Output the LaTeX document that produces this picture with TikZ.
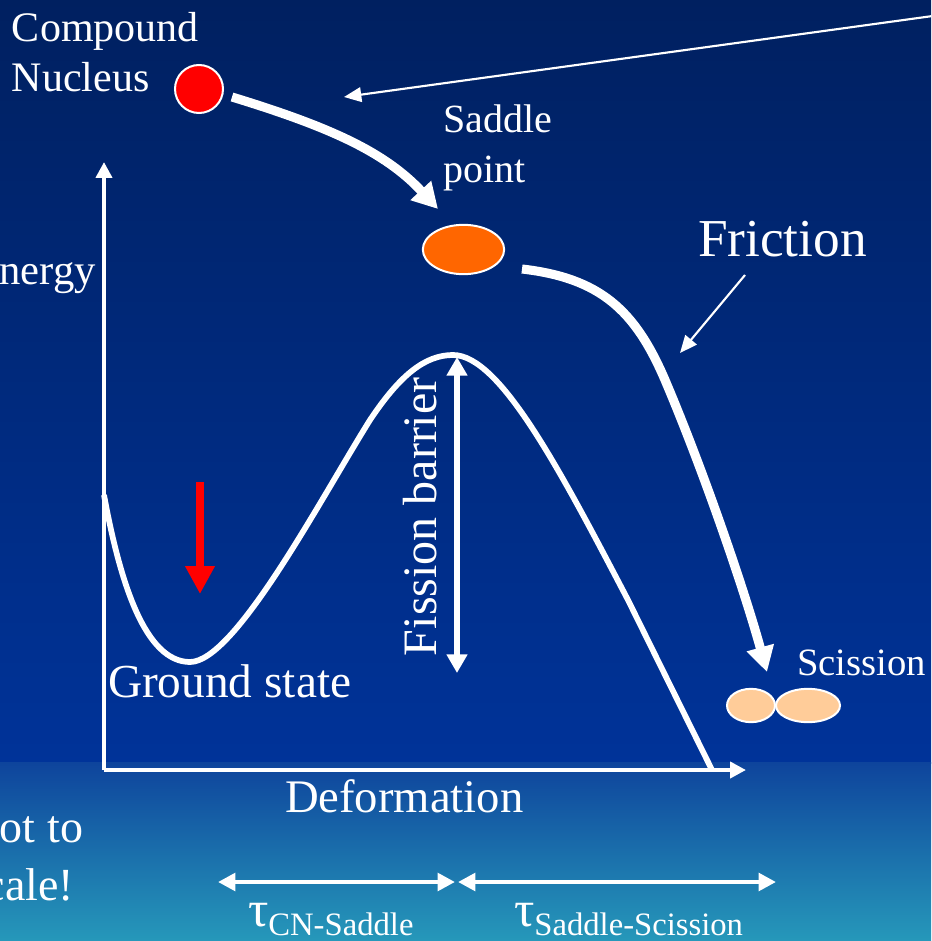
\documentclass[tikz,border=0pt]{standalone}
\usepackage{fontspec}
\setmainfont{Liberation Serif}
\usetikzlibrary{arrows.meta,shapes.geometric}
\definecolor{bgtop}{RGB}{0,32,96}
\definecolor{bgmid}{RGB}{0,51,153}
\definecolor{bglow}{RGB}{14,68,156}
\definecolor{bgbot}{RGB}{38,152,186}
\definecolor{cnred}{RGB}{255,0,0}
\definecolor{sporange}{RGB}{255,102,0}
\definecolor{scpeach}{RGB}{255,204,153}
\newcommand\fsz[1]{\fontsize{#1}{#1}\selectfont}
\begin{document}
\begin{tikzpicture}[x=0.75pt,y=-0.75pt,
  lbl/.style={text=white,inner sep=0pt,outer sep=0pt},
  axisline/.style={white,line width=3pt,-{Triangle[length=12pt,width=12pt]}},
  pes/.style={white,line width=4.3pt,line join=round},
  pathbig/.style={white,line width=6.8pt,-{Triangle[length=19pt,width=20pt]}},
  thinarrow/.style={white,line width=1.6pt,-{Triangle[length=13pt,width=11pt]}},
  barrierarrow/.style={white,line width=4pt,{Triangle[length=14pt,width=15pt]}-{Triangle[length=14pt,width=15pt]}},
  timearrow/.style={white,line width=3.6pt,{Triangle[length=13pt,width=13pt]}-{Triangle[length=13pt,width=13pt]}},
  redarrow/.style={cnred,line width=6pt,-{Triangle[length=21pt,width=21pt]}},
  blob/.style={draw=white,line width=1.5pt,inner sep=0pt}]
\useasboundingbox (0,0) rectangle (931,941);
\clip (0,0) rectangle (931,941);
% background
\shade[top color=bgtop,bottom color=bgmid] (0,0) rectangle (931,763);
\shade[top color=bglow,bottom color=bgbot] (0,762) rectangle (931,941);

% coordinates
\coordinate (O) at (104,770);
\coordinate (ytop) at (104,162);
\coordinate (xend) at (746,770);
\coordinate (pesstart) at (104,495);
\coordinate (gs) at (190,662);
\coordinate (pk) at (453,355);
\coordinate (pesend) at (712,770);

% axes
\draw[axisline] (O) -- (ytop);
\draw[axisline] (O) -- (xend);

% potential energy curve
\draw[pes] (pesstart) .. controls (120,582) and (145,662) .. (gs)
  .. controls (235,662) and (320,500) .. (370,420)
  .. controls (400,375) and (425,355) .. (pk)
  .. controls (500,355) and (560,470) .. (628,600) -- (pesend);

% fission barrier arrow
\coordinate (fbtop) at (457,357);
\coordinate (fbbot) at (457,673);
\draw[barrierarrow] (fbbot) -- (fbtop);
\node[lbl,rotate=90,anchor=base west,font=\fsz{36}] (barrier) at (436,656) {Fission barrier};

% red arrow
\coordinate (rtop) at (200,482);
\coordinate (rtip) at (200,594);
\draw[redarrow] (rtop) -- (rtip);

% nuclei
\node[blob,circle,fill=cnred,minimum size=36pt] (cn) at (199,89) {};
\node[blob,ellipse,fill=sporange,minimum width=61pt,minimum height=37pt] (sp) at (463.5,249.5) {};
\node[blob,ellipse,fill=scpeach,minimum width=36pt,minimum height=25pt] (sc1) at (751,705.5) {};
\node[blob,ellipse,fill=scpeach,minimum width=48pt,minimum height=25pt] (sc2) at (808,705.5) {};

% thick path arrows
\coordinate (p1s) at (232,97);
\coordinate (p1e) at (438,209);
\draw[pathbig] (p1s) .. controls (330,127) and (385,152) .. (p1e);
\coordinate (p2s) at (522,269);
\coordinate (p2m) at (665,380);
\coordinate (p2e) at (767,672);
\draw[pathbig] (p2s) .. controls (600,278) and (635,310) .. (p2m)
  .. controls (700,462) and (742,582) .. (p2e);

% thin arrows
\coordinate (tl) at (940,15);
\coordinate (tlend) at (344,97);
\draw[thinarrow] (tl) -- (tlend);
\coordinate (fs) at (745,275);
\coordinate (fe) at (680,353);
\draw[thinarrow] (fs) -- (fe);

% labels
\node[lbl,anchor=base west,font=\fsz{31.5}] (cntext1) at (12,42) {Compound};
\node[lbl,anchor=base west,font=\fsz{31.5}] (cntext2) at (12,92) {Nucleus};
\node[lbl,anchor=base west,font=\fsz{30}] (sptext1) at (443,133) {Saddle};
\node[lbl,anchor=base west,font=\fsz{30}] (sptext2) at (443,183) {point};
\node[lbl,anchor=base west,font=\fsz{40}] (friction) at (698,256) {Friction};
\node[lbl,anchor=base east,font=\fsz{32}] (energy) at (96,284) {Energy};
\node[lbl,anchor=base west,font=\fsz{29}] (sctext) at (797,675) {Scission};
\node[lbl,anchor=base west,font=\fsz{35.5}] (ground) at (108,697) {Ground state};
\node[lbl,anchor=base west,font=\fsz{35}] (deform) at (285,812) {Deformation};
\node[lbl,anchor=base east,font=\fsz{34.5}] (notto) at (83,842) {Not to};
\node[lbl,anchor=base east,font=\fsz{34.5}] (scale) at (74,900) {scale!};

% time arrows
\coordinate (t1a) at (218,882);
\coordinate (t1b) at (455,882);
\coordinate (t2a) at (458,882);
\coordinate (t2b) at (776,882);
\draw[timearrow] (t1a) -- (t1b);
\draw[timearrow] (t2a) -- (t2b);
\node[lbl,anchor=base west] (tau1) at (248,926) {\fsz{38}τ\raisebox{-7pt}{\fsz{24.5}CN-Saddle}};
\node[lbl,anchor=base west] (tau2) at (514,926) {\fsz{38}τ\raisebox{-7pt}{\fsz{24.5}Saddle-Scission}};
\end{tikzpicture}
\end{document}
